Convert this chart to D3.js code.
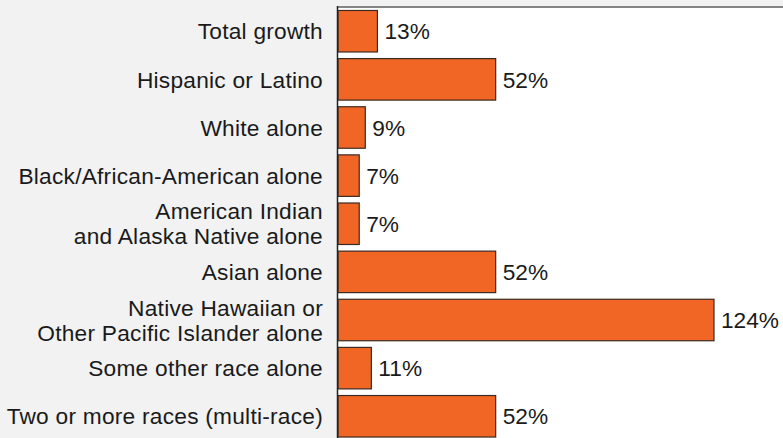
<!DOCTYPE html>
<html>
<head>
<meta charset="utf-8">
<script src="https://cdn.jsdelivr.net/npm/d3@7"></script>
<style>
  html, body { margin: 0; padding: 0; background: #f1f2f1; }
  svg { display: block; }
  text { font-family: "Liberation Sans", Arial, Helvetica, sans-serif; fill: #1a1a1a; }
</style>
</head>
<body>
<svg id="chart" width="783" height="438"></svg>
<script>
// Population growth by race / ethnicity
const categories = [
  ["Total growth"],
  ["Hispanic or Latino"],
  ["White alone"],
  ["Black/African-American alone"],
  ["American Indian", "and Alaska Native alone"],
  ["Asian alone"],
  ["Native Hawaiian or", "Other Pacific Islander alone"],
  ["Some other race alone"],
  ["Two or more races (multi-race)"]
];
const growth = [13, 52, 9, 7, 7, 52, 124, 11, 52];
const valueLabels = ["13%", "52%", "9%", "7%", "7%", "52%", "124%", "11%", "52%"];

const width = 783, height = 438;
const plotLeft = 338, plotTop = 7;
const fontSize = 22.7;

const svg = d3.select("#chart");

const keys = categories.map((c, i) => i);

const y = d3.scaleBand()
  .domain(keys)
  .range([plotTop, 439.5])
  .paddingInner(0.138)
  .paddingOuter(0.062);

const x = d3.scaleLinear()
  .domain([0, 124])
  .range([plotLeft, 714]);

// plot panel
svg.append("rect")
  .attr("x", plotLeft).attr("y", plotTop)
  .attr("width", width - plotLeft).attr("height", height - plotTop)
  .attr("fill", "#ffffff");

// top rule
svg.append("line")
  .attr("x1", plotLeft - 1).attr("x2", width)
  .attr("y1", 7).attr("y2", 7)
  .attr("stroke", "#858585").attr("stroke-width", 2);

// bars
svg.append("g").selectAll("rect")
  .data(growth)
  .join("rect")
  .attr("x", x(0))
  .attr("y", (d, i) => y(i) + 0.5)
  .attr("width", d => x(d) - x(0))
  .attr("height", y.bandwidth())
  .attr("fill", "#f26625")
  .attr("stroke", "#3a2a22")
  .attr("stroke-width", 1.2);

// value labels
svg.append("g").selectAll("text")
  .data(growth)
  .join("text")
  .attr("x", d => x(d) + 7)
  .attr("y", (d, i) => y(i) + y.bandwidth() / 2 + 0.5)
  .attr("dy", "0.36em")
  .attr("font-size", fontSize)
  .text((d, i) => valueLabels[i]);

// category axis
const axis = d3.axisLeft(y).tickSize(0).tickPadding(16).tickFormat(() => "");
const gAxis = svg.append("g")
  .attr("transform", `translate(${plotLeft},0)`)
  .call(axis);
gAxis.select(".domain").remove();

gAxis.selectAll(".tick").each(function(d) {
  const lines = categories[d];
  const t = d3.select(this).select("text")
    .attr("x", -15)
    .attr("text-anchor", "end")
    .attr("font-size", fontSize)
    .attr("letter-spacing", 0.25)
    .attr("font-family", null)
    .attr("fill", "#1a1a1a")
    .attr("dy", null)
    .text(null);
  const lh = 25;
  const start = -(lines.length - 1) * lh / 2;
  lines.forEach((ln, k) => {
    t.append("tspan")
      .attr("x", -15)
      .attr("y", start + k * lh + 0.5)
      .attr("dy", "0.36em")
      .text(ln);
  });
});

// vertical axis line
svg.append("line")
  .attr("x1", plotLeft - 0.5).attr("x2", plotLeft - 0.5)
  .attr("y1", 6).attr("y2", height)
  .attr("stroke", "#222").attr("stroke-width", 1.5);
</script>
</body>
</html>
